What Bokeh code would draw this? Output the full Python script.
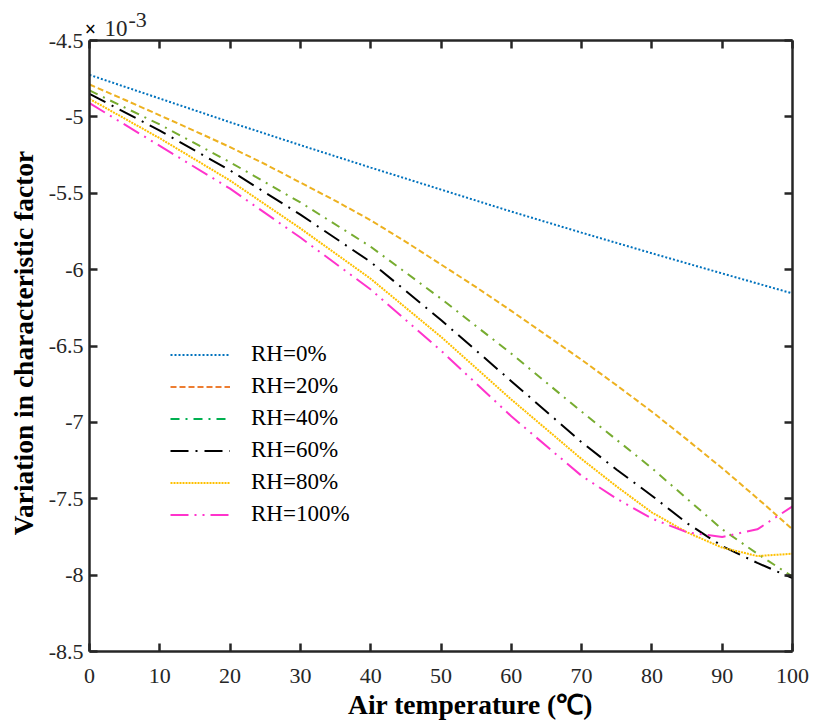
import math
from bokeh.plotting import figure
from bokeh.models import (Range1d, FixedTicker, LinearAxis, Label, Legend, LegendItem,
                          CustomJSTickFormatter)
from bokeh.embed import file_html
from bokeh.resources import INLINE

# ---- data (values in units of 1e-3) ----
temp_10 = [0, 10, 20, 30, 40, 50, 60, 70, 80, 90, 100]
rh0 = [-4.725, -4.88, -5.035, -5.185, -5.332, -5.476, -5.62, -5.758, -5.893, -6.025, -6.156]

temp_5 = [0, 5, 10, 15, 20, 25, 30, 35, 40, 45, 50, 55, 60, 65, 70, 75, 80, 85, 90, 95, 100]
rh20 = [-4.788, -4.888, -4.99, -5.093, -5.198, -5.31, -5.43, -5.55, -5.677, -5.818, -5.966,
        -6.115, -6.27, -6.43, -6.59, -6.758, -6.93, -7.113, -7.30, -7.497, -7.70]

temp_b = [0, 10, 20, 30, 40, 50, 60, 70, 75, 80, 85, 90, 95, 100]
rh40 = [-4.827, -5.05, -5.297, -5.56, -5.85, -6.19, -6.55, -6.93, -7.115, -7.30, -7.50, -7.70, -7.86, -8.01]
rh60 = [-4.849, -5.09, -5.351, -5.64, -5.95, -6.33, -6.73, -7.13, -7.31, -7.48, -7.66, -7.81, -7.92, -8.02]
rh80 = [-4.882, -5.14, -5.417, -5.73, -6.06, -6.44, -6.85, -7.24, -7.42, -7.59, -7.72, -7.82, -7.875, -7.86]
rh100 = [-4.91, -5.19, -5.47, -5.79, -6.13, -6.53, -6.96, -7.35, -7.50, -7.63, -7.72, -7.75, -7.70, -7.55]

labels = ["RH=0%", "RH=20%", "RH=40%", "RH=60%", "RH=80%", "RH=100%"]
line_colors = ["#0072BD", "#EDB120", "#77AC30", "#000000", "#FFC000", "#FF33CC"]
legend_colors = ["#0072BD", "#ED7D31", "#00B050", "#000000", "#FFC000", "#FF33CC"]
dashes = ["2 2", "6 3", "9 6 2 6", "18 7 2 7", "2 1", "18 6 2 6 2 6"]

x_ticks = [0, 10, 20, 30, 40, 50, 60, 70, 80, 90, 100]
y_ticks = [-8.5, -8, -7.5, -7, -6.5, -6, -5.5, -5, -4.5]
y_tick_labels = ["-8.5", "-8", "-7.5", "-7", "-6.5", "-6", "-5.5", "-5", "-4.5"]
X_MIN, X_MAX = 0, 100
Y_MIN, Y_MAX = -8.5, -4.5

SERIF = "Liberation Serif"
TICK_COLOR = "#262626"

# ---- layout: the frame fills the whole canvas; the plot box sits inside it ----
W, H = 818, 724
BOX_L, BOX_R, BOX_T, BOX_B = 89, 792, 40, 651
sx = (BOX_R - BOX_L) / (X_MAX - X_MIN)
sy = (BOX_B - BOX_T) / (Y_MAX - Y_MIN)
def dx(px):  # canvas pixel -> data x
    return X_MIN + (px - BOX_L) / sx
def dy(py):  # canvas pixel -> data y
    return Y_MAX - (py - BOX_T) / sy

p = figure(width=W, height=H, output_backend="svg", toolbar_location=None,
           x_range=Range1d(dx(0), dx(W)), y_range=Range1d(dy(H), dy(0)),
           min_border=0, min_border_left=0, min_border_right=0, min_border_top=0,
           min_border_bottom=0, x_axis_location=None, y_axis_location=None)
p.outline_line_color = None
p.xgrid.visible = False
p.ygrid.visible = False
p.background_fill_color = "white"
p.border_fill_color = "white"

series = [(temp_10, rh0), (temp_5, rh20), (temp_b, rh40), (temp_b, rh60), (temp_b, rh80), (temp_b, rh100)]
for (xs, ys), c, d in zip(series, line_colors, dashes):
    p.line(xs, ys, line_color=c, line_width=2, line_dash=d)

# axes (box with inward ticks), each fixed at an edge of the box
def make_axis(show_labels):
    ax = LinearAxis(axis_line_color=TICK_COLOR, axis_line_width=2.5,
                    major_tick_line_color=TICK_COLOR, major_tick_line_width=2.5,
                    major_tick_in=8, major_tick_out=0, minor_tick_line_color=None,
                    major_label_text_font=SERIF, major_label_text_font_size="22px",
                    major_label_text_color=TICK_COLOR)
    if not show_labels:
        ax.formatter = CustomJSTickFormatter(code="return ''")
        ax.major_label_standoff = 0
        ax.major_label_text_font_size = "1px"
    return ax

xb = make_axis(True)
xb.ticker = FixedTicker(ticks=x_ticks)
xb.bounds = (X_MIN, X_MAX)
xb.fixed_location = Y_MIN
xb.major_label_standoff = 17
p.add_layout(xb, "below")

yl = make_axis(True)
yl.ticker = FixedTicker(ticks=y_ticks)
yl.bounds = (Y_MIN, Y_MAX)
yl.fixed_location = X_MIN
yl.major_label_overrides = {v: s for v, s in zip(y_ticks, y_tick_labels)}
yl.major_label_standoff = 6
p.add_layout(yl, "left")

xt = make_axis(False)
xt.ticker = FixedTicker(ticks=x_ticks)
xt.bounds = (X_MIN, X_MAX)
xt.fixed_location = Y_MAX
p.add_layout(xt, "above")

yr = make_axis(False)
yr.ticker = FixedTicker(ticks=y_ticks)
yr.bounds = (Y_MIN, Y_MAX)
yr.fixed_location = X_MAX
p.add_layout(yr, "right")

# legend (its own colours, as in the reference); proxy renderers hold no visible point
items = []
nan = float("nan")
for lab, c, d in zip(labels, legend_colors, dashes):
    r = p.line([nan, nan], [nan, nan], line_color=c, line_width=2, line_dash=d)
    items.append(LegendItem(label=lab, renderers=[r]))
legend = Legend(items=items, location=(170, H - 527), orientation="vertical",
                glyph_width=60, glyph_height=25, label_height=25, label_standoff=21,
                spacing=6, padding=0, margin=0, border_line_color=None,
                background_fill_alpha=0, label_text_font=SERIF,
                label_text_font_size="23px", label_text_color="#000000")
p.add_layout(legend, "center")

# multiplier  x10^-3  (positions are text-box centres)
p.add_layout(Label(x=dx(90), y=dy(28.5), text="×", text_align="center", text_baseline="middle",
                   text_font=SERIF, text_font_style="bold", text_font_size="20px",
                   text_color="#000000"))
p.add_layout(Label(x=dx(104), y=dy(28.2), text="10", text_align="left",
                   text_baseline="middle", text_font=SERIF, text_font_size="23px",
                   text_color=TICK_COLOR))
p.add_layout(Label(x=dx(128), y=dy(19.6), text="-3", text_align="left",
                   text_baseline="middle", text_font=SERIF, text_font_size="22px",
                   text_color=TICK_COLOR))

# axis titles
p.add_layout(Label(x=dx(470), y=dy(703.7), text="Air temperature (℃)", text_align="center",
                   text_baseline="middle", text_font=SERIF, text_font_style="bold",
                   text_font_size="27.5px", text_color="#000000"))
p.add_layout(Label(x=dx(23), y=dy(342.5), text="Variation in characteristic factor",
                   angle=math.pi / 2, text_align="center", text_baseline="middle",
                   text_font=SERIF, text_font_style="bold", text_font_size="27.5px",
                   text_color="#000000"))

open("out.html", "w").write(file_html(p, INLINE))
